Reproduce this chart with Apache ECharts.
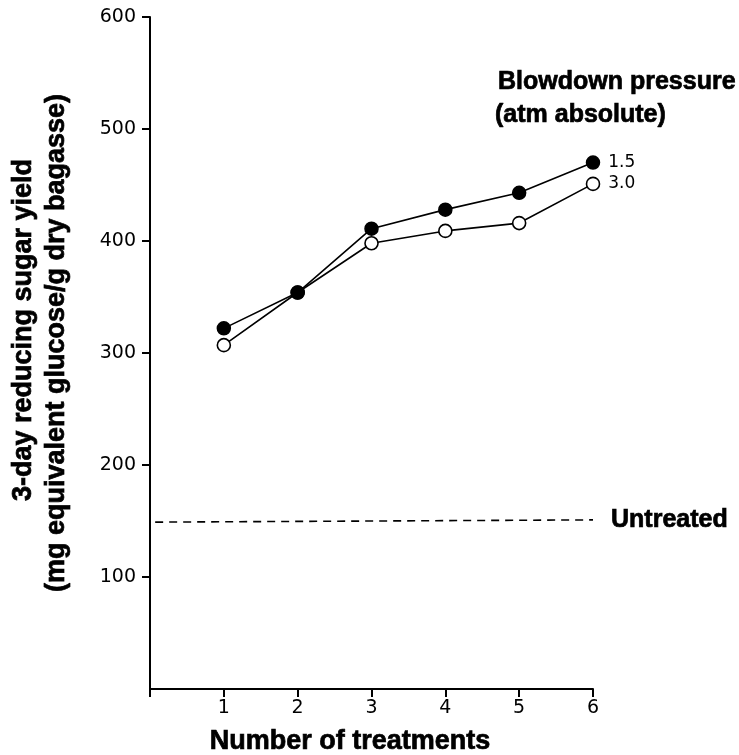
<!DOCTYPE html>
<html><head><meta charset="utf-8">
<script src="https://cdn.jsdelivr.net/npm/echarts@6/dist/echarts.min.js"></script>
<style>html,body{margin:0;padding:0;background:#fff}#c{width:739px;height:755px}</style>
</head><body><div id="c"></div>
<script>
var treatments = [1, 2, 3, 4, 5, 6];
var yield15 = [322, 354, 411, 428, 443, 470];
var yield30 = [307, 354, 398, 409, 416, 451];
var untreatedX = [0.07, 6];
var untreatedY = [149, 151];
var yTicks = [100, 200, 300, 400, 500, 600];
var xTicks = [1, 2, 3, 4, 5, 6];

function pairs(xs, ys) { return xs.map(function (x, i) { return [x, ys[i]]; }); }

var chart = echarts.init(document.getElementById('c'), null, {renderer: 'canvas'});
var tickFont = {fontFamily: 'DejaVu Sans', fontSize: 19, color: '#000'};
var boldFont = 'Liberation Sans';

function lastLabel(txt) {
  return function (p) { return p.dataIndex === treatments.length - 1 ? txt : ''; };
}
function boldText(x, y, txt, size, rot, align) {
  return {type: 'text', x: x, y: y, rotation: rot || 0,
    style: {text: txt, font: 'bold ' + size + 'px "Liberation Sans"', fill: '#000',
      stroke: '#000', lineWidth: 0.7,
      align: align || 'center', verticalAlign: 'middle'}};
}

chart.setOption({
  animation: false,
  backgroundColor: '#fff',
  grid: {left: 150, right: 146, top: 17, bottom: 66, containLabel: false},
  xAxis: {
    type: 'value', min: 0, max: 6, interval: 1,
    axisLine: {show: true, lineStyle: {color: '#000', width: 2}},
    axisTick: {show: true, length: 8, lineStyle: {color: '#000', width: 2}},
    splitLine: {show: false},
    axisLabel: Object.assign({margin: 10, formatter: function (v) { return xTicks.indexOf(v) >= 0 ? String(v) : ''; }}, tickFont)
  },
  yAxis: {
    type: 'value', min: 0, max: 600, interval: 100,
    axisLine: {show: true, lineStyle: {color: '#000', width: 2}},
    axisTick: {show: true, length: 8, lineStyle: {color: '#000', width: 2},
      customValues: yTicks},
    splitLine: {show: false},
    axisLabel: Object.assign({margin: 14, customValues: yTicks,
      formatter: function (v) { return yTicks.indexOf(v) >= 0 ? String(v) : ''; }}, tickFont)
  },
  graphic: [
    boldText(24, 330, '3-day reducing sugar yield', 27, Math.PI / 2),
    boldText(57, 343, '(mg equivalent glucose/g dry bagasse)', 27, Math.PI / 2),
    boldText(498, 82, 'Blowdown pressure', 25, 0, 'left'),
    boldText(495, 115, '(atm absolute)', 25, 0, 'left'),
    boldText(350, 742, 'Number of treatments', 27, 0)
  ],
  series: [
    {
      name: '1.5', type: 'line', data: pairs(treatments, yield15),
      symbol: 'circle', symbolSize: 13,
      lineStyle: {color: '#000', width: 1.6},
      itemStyle: {color: '#000', borderColor: '#000', borderWidth: 1.5},
      label: {show: true, position: 'right', distance: 8, formatter: lastLabel('1.5'),
        fontFamily: 'DejaVu Sans', fontSize: 17, color: '#000'},
      z: 3
    },
    {
      name: '3.0', type: 'line', data: pairs(treatments, yield30),
      symbol: 'circle', symbolSize: 13,
      lineStyle: {color: '#000', width: 1.6},
      itemStyle: {color: '#fff', borderColor: '#000', borderWidth: 1.6},
      label: {show: true, position: 'right', distance: 8, formatter: lastLabel('3.0'),
        fontFamily: 'DejaVu Sans', fontSize: 17, color: '#000'},
      z: 2
    },
    {
      name: 'Untreated', type: 'line', data: pairs(untreatedX, untreatedY),
      symbol: 'none', clip: false,
      lineStyle: {color: '#000', width: 1.6, type: [8, 6]},
      endLabel: {show: true, formatter: 'Untreated', distance: 18,
        fontFamily: boldFont, fontWeight: 'bold', fontSize: 25, color: '#000',
        textBorderColor: '#000', textBorderWidth: 0.7}
    }
  ]
});
</script>
</body></html>
